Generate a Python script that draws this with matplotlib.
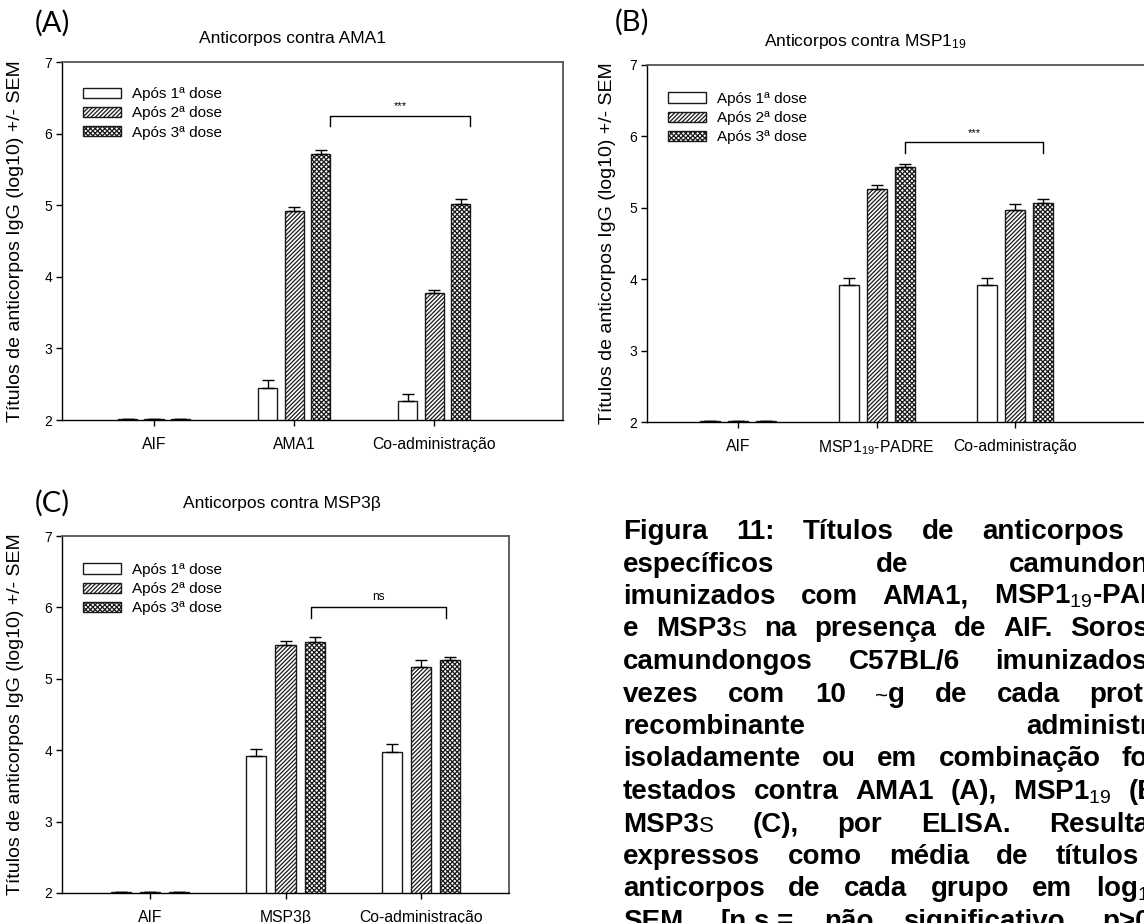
import matplotlib
matplotlib.use("Agg")
import matplotlib.pyplot as plt
import numpy as np

plt.rcParams['font.family'] = ['Liberation Sans', 'DejaVu Sans']
plt.rcParams['mathtext.fontset'] = 'custom'
plt.rcParams['mathtext.rm'] = 'Liberation Sans'
plt.rcParams['mathtext.it'] = 'Liberation Sans:italic'
plt.rcParams['mathtext.bf'] = 'Liberation Sans:bold'
plt.rcParams['hatch.linewidth'] = 0.9

# ---- data (log10 IgG titres) ----
doses = ['Após 1ª dose', 'Após 2ª dose', 'Após 3ª dose']

groups_a = ['AIF', 'AMA1', 'Co-administração']
dose1_a = [2.01, 2.45, 2.26]
dose2_a = [2.01, 4.92, 3.77]
dose3_a = [2.01, 5.71, 5.01]
err1_a = [0.005, 0.11, 0.11]
err2_a = [0.005, 0.05, 0.05]
err3_a = [0.005, 0.06, 0.08]

groups_b = ['AIF', r'MSP1$_{19}$-PADRE', 'Co-administração']
dose1_b = [2.01, 3.92, 3.92]
dose2_b = [2.01, 5.27, 4.97]
dose3_b = [2.01, 5.57, 5.07]
err1_b = [0.005, 0.09, 0.09]
err2_b = [0.005, 0.05, 0.09]
err3_b = [0.005, 0.05, 0.05]

groups_c = ['AIF', 'MSP3β', 'Co-administração']
dose1_c = [2.01, 3.92, 3.97]
dose2_c = [2.01, 5.47, 5.17]
dose3_c = [2.01, 5.52, 5.27]
err1_c = [0.005, 0.10, 0.12]
err2_c = [0.005, 0.06, 0.10]
err3_c = [0.005, 0.06, 0.04]

titles = ['Anticorpos contra AMA1', r'Anticorpos contra MSP1$_{19}$', 'Anticorpos contra MSP3β']
letters = ['(A)', '(B)', '(C)']
sig_labels = ['***', '***', 'ns']
sig_heights = [6.25, 5.92, 6.0]

ylabel = 'Títulos de anticorpos IgG (log10) +/- SEM'

caption = [
    'Figura 11: Títulos de anticorpos IgG',
    'específicos de camundongos',
    r'imunizados com AMA1, MSP1$_{19}$-PADRE',
    'e MSP3S na presença de AIF. Soros de',
    'camundongos C57BL/6 imunizados 3',
    'vezes com 10 ~g de cada proteína',
    'recombinante administrada',
    'isoladamente ou em combinação foram',
    r'testados contra AMA1 (A), MSP1$_{19}$ (B) e',
    'MSP3S (C), por ELISA. Resultados',
    'expressos como média de títulos de',
    r'anticorpos de cada grupo em log$_{10}$ ±',
    'SEM. [n.s.= não significativo, p>0.05;',
]

W, H = 1144, 923
fig = plt.figure(figsize=(W / 100, H / 100), dpi=100)


def px_axes(l, r, t, b):
    return fig.add_axes([l / W, 1 - b / H, (r - l) / W, (b - t) / H])


def draw_panel(ax, groups, means, errs, offset, width, xlim, title, title_x,
               title_pad, sig, sig_y, sig_x0, leg_anchor, ylab_x):
    x = np.arange(len(groups))
    hatches = [None, '////////', 'xxxxxxx']
    for i in range(3):
        xs = x + (i - 1) * offset
        ax.bar(xs, means[i], width, color='white', edgecolor='#1a1a1a',
               linewidth=1, hatch=hatches[i], label=doses[i], zorder=2)
        ax.errorbar(xs, means[i], yerr=[np.zeros(len(groups)), errs[i]],
                    fmt='none', ecolor='black', elinewidth=1, capsize=4.5,
                    capthick=1, zorder=3)
    ax.set_xlim(*xlim)
    ax.set_ylim(2, 7)
    ax.set_xticks(x)
    ax.set_xticklabels(groups, fontsize=11.3)
    ax.set_yticks(range(2, 8))
    ax.tick_params(axis='y', labelsize=10, length=4, width=1, pad=3)
    ax.tick_params(axis='x', length=4, width=1, pad=8)
    for s in ['top', 'right']:
        ax.spines[s].set_color('#555555')
        ax.spines[s].set_linewidth(1.3)
    for s in ['left', 'bottom']:
        ax.spines[s].set_color('black')
        ax.spines[s].set_linewidth(1)
    ax.set_title(title, fontsize=12.5, x=title_x, pad=title_pad)
    ax.set_ylabel(ylabel, fontsize=14)
    ax.yaxis.set_label_coords(ylab_x, 0.5)

    # significance bracket between the 3rd-dose bars of the last two groups
    x1 = x[1] + offset + sig_x0
    x2 = x[2] + offset + sig_x0
    ax.plot([x1, x1, x2, x2], [sig_y - 0.15, sig_y, sig_y, sig_y - 0.15],
            color='black', lw=1, zorder=3)
    ax.text((x1 + x2) / 2, sig_y + 0.06, sig, ha='center', va='bottom',
            fontsize=8.5 if sig == 'ns' else 8)

    ax.legend(loc='upper left', bbox_to_anchor=leg_anchor, frameon=False,
              fontsize=11, handlelength=2.5, handleheight=0.65,
              handletextpad=0.7, labelspacing=0.35, borderpad=0,
              borderaxespad=0)


ax_a = px_axes(62, 563, 62, 420)
draw_panel(ax_a, groups_a, [dose1_a, dose2_a, dose3_a], [err1_a, err2_a, err3_a],
           0.189, 0.136, (-0.657, 2.92), titles[0], 0.461, 14, sig_labels[0],
           sig_heights[0], 0.068, (0.042, 0.93), -0.075)

ax_b = px_axes(647, 1147, 65, 422)
draw_panel(ax_b, groups_b, [dose1_b, dose2_b, dose3_b], [err1_b, err2_b, err3_b],
           0.202, 0.145, (-0.657, 2.95), titles[1], 0.436, 14, sig_labels[1],
           sig_heights[1], 0.0, (0.042, 0.925), -0.062)

ax_c = px_axes(62, 509, 536, 893)
draw_panel(ax_c, groups_c, [dose1_c, dose2_c, dose3_c], [err1_c, err2_c, err3_c],
           0.215, 0.148, (-0.65, 2.65), titles[2], 0.492, 20, sig_labels[2],
           sig_heights[2], -0.03, (0.047, 0.925), -0.084)

# panel letters
for lab, (lx, ly) in zip(letters, [(35, 23), (615, 22), (35, 503)]):
    fig.text(lx / W, 1 - ly / H, lab, fontsize=21, family=['Lato', 'DejaVu Sans'],
             ha='left', va='center')

# justified bold caption (runs off the right edge like the source page)
renderer = fig.canvas.get_renderer()
cap_left, cap_right = 623, 1199
cap_base, cap_pitch = 539, 32.5
cap_size = 20


def segments(word):
    if word == 'MSP3S':
        return [('MSP3', 'bold'), ('S', 'normal')]
    if word == '~g':
        return [('~', 'normal'), ('g', 'bold')]
    return [(word, 'bold')]


for n, line in enumerate(caption):
    y = 1 - (cap_base + n * cap_pitch) / H
    words = line.split(' ')
    pieces = []
    for w in words:
        segs = []
        for txt, wt in segments(w):
            size = cap_size * 0.8 if wt == 'normal' else cap_size
            t = fig.text(0, y, txt, fontsize=size, fontweight=wt, va='baseline',
                         ha='left')
            wpx = t.get_window_extent(renderer).width
            segs.append((t, wpx))
        pieces.append(segs)
    widths = [sum(s[1] for s in p) for p in pieces]
    gap = (cap_right - cap_left - sum(widths)) / max(len(pieces) - 1, 1)
    xp = cap_left
    for p, wsum in zip(pieces, widths):
        xs = xp
        for t, wpx in p:
            t.set_x(xs / W)
            xs += wpx
        xp += wsum + gap

fig.savefig('out.png', dpi=100)
